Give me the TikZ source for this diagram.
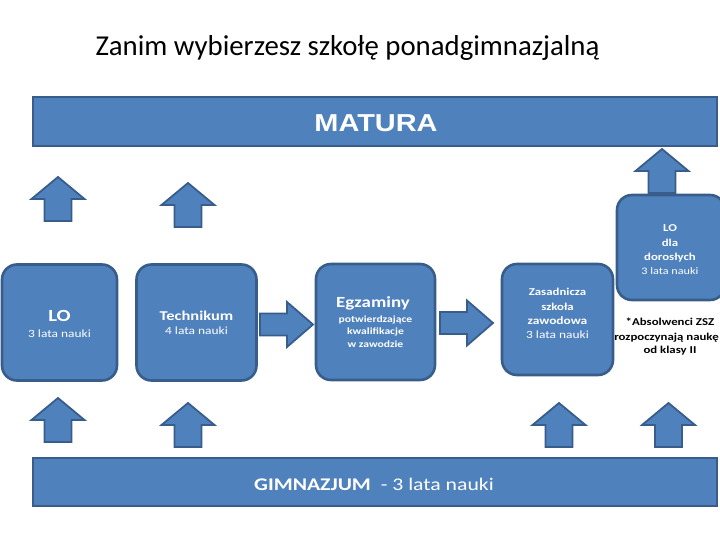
\documentclass[tikz,border=0pt]{standalone}
\usepackage{fontspec}
\setmainfont{Carlito}
\newfontfamily\df{Carlito}[FakeStretch=1.22]
\newfontfamily\mf{Liberation Sans}[FakeStretch=1.18]
\definecolor{fillb}{HTML}{4F81BD}
\definecolor{edgeb}{HTML}{385D8A}
\tikzset{
  bar/.style={draw=edgeb, fill=fillb, line width=2pt, inner sep=0pt},
  rbox/.style={draw=edgeb, fill=fillb, line width=2.6pt, rounded corners=15pt, inner sep=0pt},
  blockarrow/.style={draw=edgeb, fill=fillb, line width=1.8pt, line join=miter},
  lbl/.style={text=white, anchor=base, inner sep=0pt},
  note/.style={text=black, anchor=base, inner sep=0pt},
  uparrow/.pic={\draw[blockarrow] (-13.5,0) -- (-13.5,-22) -- (-26.5,-22) -- (0,-44) -- (26.5,-22) -- (13.5,-22) -- (13.5,0) -- cycle;},
  rightarrow/.pic={\draw[blockarrow] (0,-11) -- (27,-11) -- (27,-22.5) -- (53,0) -- (27,22.5) -- (27,11) -- (0,11) -- cycle;}
}
\begin{document}
\begin{tikzpicture}[x=1pt,y=-1pt]
\useasboundingbox (0,0) rectangle (720,540);
% title
\node[note, font=\fontsize{28.8}{32}\selectfont] (title) at (347.5,56) {Zanim wybierzesz szkołę ponadgimnazjalną};
% bars
\node[bar, minimum width=684, minimum height=49] (matura) at (375,121.5) {};
\node[lbl, font=\mf\bfseries\fontsize{24.5}{28}\selectfont] (maturat) at (376,131.5) {MATURA};
\node[bar, minimum width=684, minimum height=48] (gimn) at (375,482) {};
\node[lbl, font=\df\fontsize{17.8}{20}\selectfont] (gimnt) at (374,490) {\textbf{GIMNAZJUM}\ \ - 3 lata nauki};
% rounded boxes
\node[rbox, minimum width=115, minimum height=116] (lo) at (59.5,322.5) {};
\node[rbox, minimum width=120, minimum height=116] (tech) at (196.5,322.5) {};
\node[rbox, minimum width=119, minimum height=116] (egz) at (375.5,322) {};
\node[rbox, minimum width=111, minimum height=111] (zsz) at (557.5,319.5) {};
\node[rbox, minimum width=108, minimum height=105] (lod) at (671,247.5) {};
% texts
\node[lbl, font=\df\bfseries\fontsize{17}{20}\selectfont] (lo1) at (59.5,321.5) {LO};
\node[lbl, font=\df\fontsize{11}{13}\selectfont] (lo2) at (59.5,337.5) {3 lata nauki};
\node[lbl, font=\df\bfseries\fontsize{13.5}{15}\selectfont] (te1) at (196.5,320) {Technikum};
\node[lbl, font=\df\fontsize{11}{13}\selectfont] (te2) at (196.5,334.5) {4 lata nauki};
\node[lbl, font=\df\bfseries\fontsize{15.5}{18}\selectfont] (eg1) at (373,307.5) {Egzaminy};
\node[lbl, font=\df\bfseries\fontsize{9.5}{11}\selectfont] (eg2) at (375.5,322) {potwierdzające};
\node[lbl, font=\df\bfseries\fontsize{9.5}{11}\selectfont] (eg3) at (375.5,334) {kwalifikacje};
\node[lbl, font=\df\bfseries\fontsize{9.5}{11}\selectfont] (eg4) at (375.5,347) {w zawodzie};
\node[lbl, font=\df\bfseries\fontsize{10.5}{12}\selectfont] (zs1) at (557.5,295) {Zasadnicza};
\node[lbl, font=\df\bfseries\fontsize{10.5}{12}\selectfont] (zs2) at (557.5,310) {szkoła};
\node[lbl, font=\df\bfseries\fontsize{11}{13}\selectfont] (zs3) at (557.5,324) {zawodowa};
\node[lbl, font=\df\fontsize{11}{13}\selectfont] (zs4) at (557.5,338) {3 lata nauki};
\node[lbl, font=\df\bfseries\fontsize{10.5}{12}\selectfont] (ld1) at (670,232) {LO};
\node[lbl, font=\df\bfseries\fontsize{10.5}{12}\selectfont] (ld2) at (670,246) {dla};
\node[lbl, font=\df\bfseries\fontsize{10.5}{12}\selectfont] (ld3) at (670,260) {dorosłych};
\node[lbl, font=\df\fontsize{10}{12}\selectfont] (ld4) at (670,274) {3 lata nauki};
\node[note, font=\df\bfseries\fontsize{10.5}{12}\selectfont] (ab1) at (670,325) {*Absolwenci ZSZ};
\node[note, font=\df\bfseries\fontsize{10.5}{12}\selectfont] (ab2) at (666.5,340) {rozpoczynają naukę};
\node[note, font=\df\bfseries\fontsize{10.5}{12}\selectfont] (ab3) at (670,353) {od klasy II};
% up arrows to MATURA
\pic at (58,221) {uparrow};
\pic at (188,227) {uparrow};
\pic at (662,193) {uparrow};
% up arrows from GIMNAZJUM
\pic at (58,442) {uparrow};
\pic at (188,447) {uparrow};
\pic at (559,447) {uparrow};
\pic at (668.5,447) {uparrow};
% right arrows
\pic at (260,324.5) {rightarrow};
\pic at (440,323) {rightarrow};
\end{tikzpicture}
\end{document}
